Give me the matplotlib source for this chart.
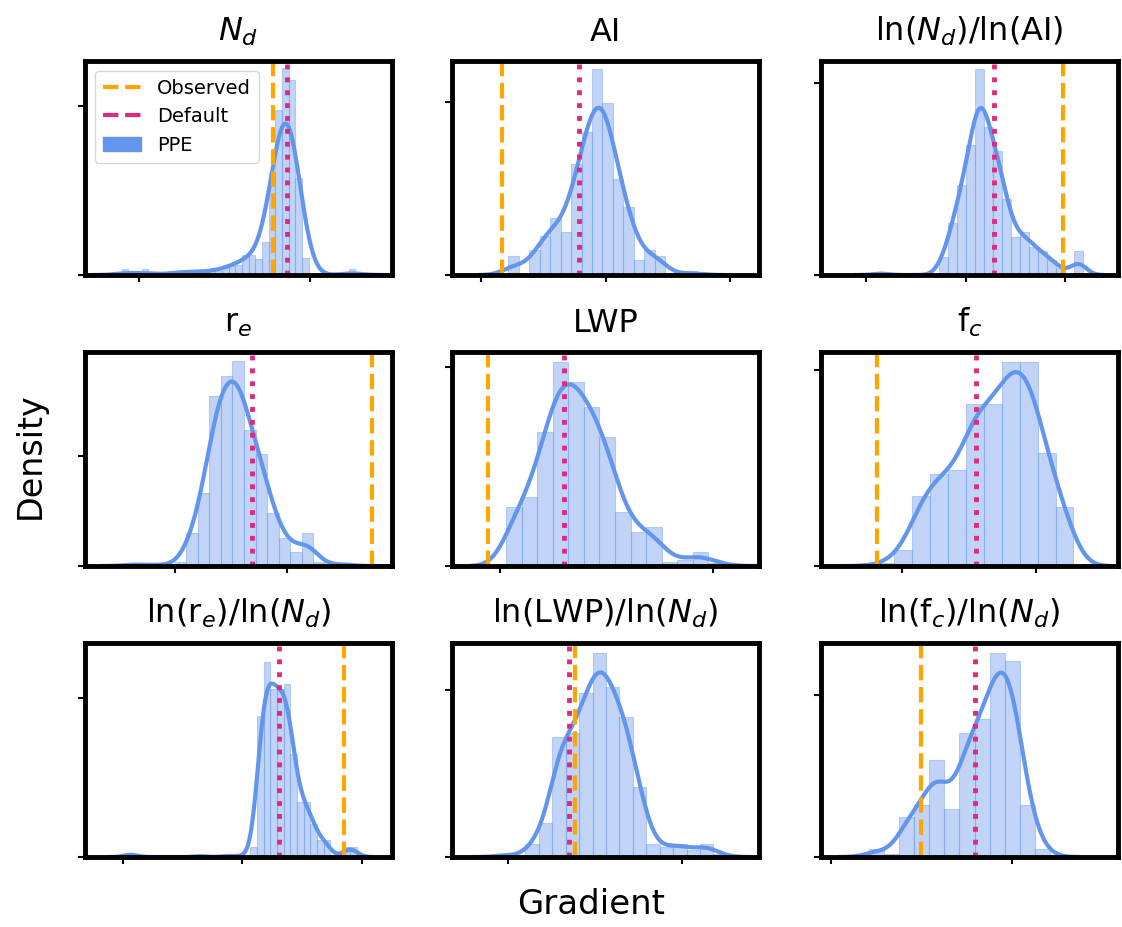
import numpy as np
import matplotlib
matplotlib.use('Agg')
import matplotlib.pyplot as plt
from matplotlib.lines import Line2D
from matplotlib.patches import Patch

titles = [r'$N_d$', 'AI', r'ln($N_d$)/ln(AI)',
          r'r$_e$', 'LWP', r'f$_c$',
          r'ln(r$_e$)/ln($N_d$)', r'ln(LWP)/ln($N_d$)', r'ln(f$_c$)/ln($N_d$)']

# PPE histograms: left edge of first bin, bin width, bar heights (density, arbitrary units)
bin_start = [-1.103, -0.782, -0.994, -0.421, 0.028, -0.189, -0.987, -0.052, 0.209]
bin_width = [0.0391, 0.0841, 0.0906, 0.1036, 0.0732, 0.1333, 0.0556, 0.0768, 0.0836]
ppe_nd = [6, 0, 0, 6, 0, 0, 0, 3, 3, 3, 3, 4, 3, 4, 4, 9, 9, 10, 20, 20, 16, 33,
          103, 165, 207, 195, 97, 17, 0, 0, 0, 0, 0, 0, 6]
ppe_ai = [19, 0, 25, 39, 57, 43, 111, 143, 206, 172, 96, 68, 15, 25, 19, 0, 0, 4]
ppe_nd_ai = [0, 3, 0, 0, 0, 0, 0, 0, 18, 52, 90, 130, 206, 148, 124, 76, 38, 43,
             28, 24, 15, 7, 0, 24]
ppe_re = [3, 0, 2, 0, 4, 33, 73, 170, 190, 205, 136, 112, 53, 28, 14, 33, 4, 0, 3]
ppe_lwp = [59, 69, 134, 204, 184, 159, 129, 54, 34, 39, 4, 6, 14, 3]
ppe_fc = [3, 16, 70, 92, 96, 162, 162, 204, 204, 113, 59]
ppe_re_nd = [3, 3, 0, 0, 0, 0, 0, 0, 0, 0, 0, 2, 0, 0, 0, 2, 0, 2, 0, 10, 141, 195,
             168, 168, 173, 103, 55, 55, 33, 17, 17, 0, 0, 10, 10]
ppe_lwp_nd = [3, 0, 13, 34, 120, 124, 164, 204, 170, 140, 70, 13, 10, 13, 7, 13, 3]
ppe_fc_nd = [8, 3, 40, 52, 97, 48, 124, 138, 204, 196, 52, 8]
ppe = [ppe_nd, ppe_ai, ppe_nd_ai, ppe_re, ppe_lwp, ppe_fc, ppe_re_nd, ppe_lwp_nd, ppe_fc_nd]

observed = [-0.215, -0.831, 0.983, 1.766, -0.055, -0.182, 0.853, 0.386, 0.501]
default = [-0.136, -0.217, 0.288, 0.683, 0.301, 0.553, 0.311, 0.348, 0.797]

# kde bandwidth per panel (x units)
bw = [0.062, 0.090, 0.081, 0.097, 0.066, 0.104, 0.052, 0.060, 0.066]

xlims = [(-1.318, 0.480), (-1.234, 1.232), (-1.458, 1.534),
         (-0.810, 1.941), (-0.226, 1.218), (-0.598, 1.608),
         (-1.314, 1.253), (-0.319, 1.438), (-0.053, 1.585)]
xticks = [[-1, 0], [-1, 0, 1], [-1, 0, 1],
          [0, 1], [0, 1], [0, 1],
          [-1, 0, 1], [0, 1], [0, 1]]
ytick = [169, 173, 192, 110, 199, 196, 159, 167, 162]
ytop = [214, 214, 214, 214, 214, 214, 214, 214, 214]

blue = 'cornflowerblue'
orange = 'orange'
pink = '#e0287d'

fig = plt.figure(figsize=(11.22, 9.27), dpi=100)
lefts = [85, 452, 821]
widths = [307, 307, 297]
bottoms = [275, 566, 857]
axes = []
for r in range(3):
    for c in range(3):
        ax = fig.add_axes([lefts[c] / 1122, 1 - bottoms[r] / 927, widths[c] / 1122, 214 / 927])
        axes.append(ax)

for i, ax in enumerate(axes):
    h = np.array(ppe[i], float)
    w = bin_width[i]
    edges = bin_start[i] + w * np.arange(len(h) + 1)
    ax.bar(edges[:-1], h, width=w, align='edge', color=blue, alpha=0.4,
           edgecolor=blue, linewidth=0.8)

    # smooth density from the binned ensemble
    centers = edges[:-1] + w / 2
    mass = h * w
    nz = centers[h > 0]
    xs = np.linspace(nz.min() - 3 * bw[i], nz.max() + 3 * bw[i], 500)
    ys = (mass[:, None] * np.exp(-0.5 * ((xs - centers[:, None]) / bw[i]) ** 2)).sum(0)
    ys /= bw[i] * np.sqrt(2 * np.pi)
    ax.plot(xs, ys, color=blue, lw=3)

    ax.axvline(observed[i], color=orange, ls='--', lw=3)
    ax.axvline(default[i], color=pink, ls=':', lw=3.5)

    ax.set_xlim(xlims[i])
    ax.set_ylim(0, ytop[i])
    ax.set_xticks(xticks[i])
    ax.set_yticks([0, ytick[i]])
    ax.set_xticklabels([])
    ax.set_yticklabels([])
    ax.tick_params(length=5, width=1.5)
    for s in ax.spines.values():
        s.set_linewidth(3.5)
    ax.set_title(titles[i], fontsize=23, pad=14.5)

handles = [Line2D([0], [0], color=orange, ls='--', lw=3),
           Line2D([0], [0], color=pink, ls='--', lw=3),
           Patch(color=blue)]
axes[0].legend(handles, ['Observed', 'Default', 'PPE'], loc='upper left',
               fontsize=14, handlelength=2.0)

fig.text(0.027, 0.509, 'Density', rotation=90, fontsize=24, ha='center', va='center')
fig.text(0.527, 0.024, 'Gradient', fontsize=24.5, ha='center', va='center')

fig.savefig('out.png', dpi=100)
